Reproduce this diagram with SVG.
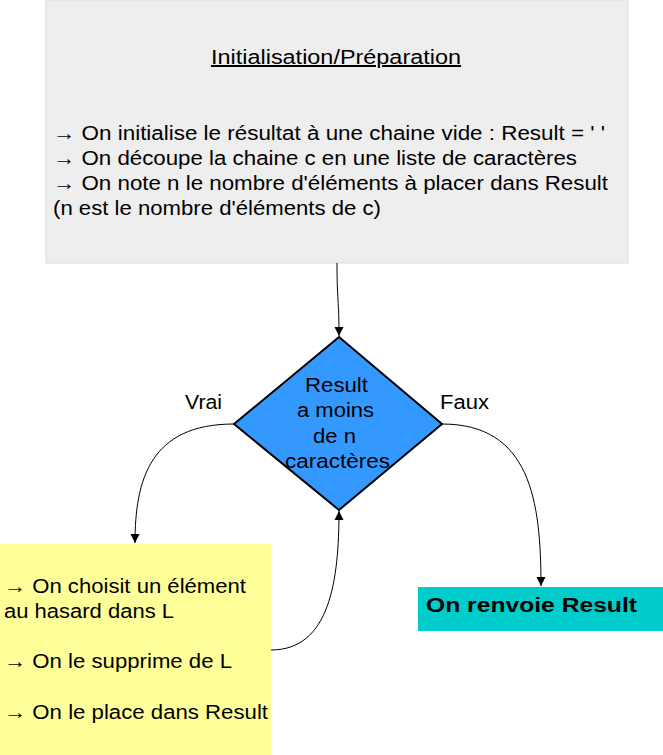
<svg xmlns="http://www.w3.org/2000/svg" width="663" height="755" viewBox="0 0 663 755">
<style>
text{font-family:"Liberation Sans",Arial,sans-serif;font-size:20px;fill:#000}
.c{fill:none;stroke:#000;stroke-width:1}
</style>
<defs><marker id="a" viewBox="0 0 10 10" refX="10" refY="5" markerWidth="9" markerHeight="13" markerUnits="userSpaceOnUse" orient="auto"><path d="M0,0L10,5L0,10z" fill="#000"/></marker></defs>
<rect width="663" height="755" fill="#fff"/>
<g id="init">
<rect x="46" y="0" width="582" height="263" fill="#eeeeee" stroke="#dddddd"/>
<text x="211" y="64" textLength="250" lengthAdjust="spacingAndGlyphs" text-decoration="underline">Initialisation/Préparation</text>
<text x="53" y="140" textLength="552" lengthAdjust="spacingAndGlyphs">→ On initialise le résultat à une chaine vide : Result = ' '</text>
<text x="53" y="165" textLength="524" lengthAdjust="spacingAndGlyphs">→ On découpe la chaine c en une liste de caractères</text>
<text x="53" y="190" textLength="555" lengthAdjust="spacingAndGlyphs">→ On note n le nombre d'éléments à placer dans Result</text>
<text x="53" y="215" textLength="328" lengthAdjust="spacingAndGlyphs">(n est le nombre d'éléments de c)</text>
</g>
<g id="cond">
<path d="M339,337L442,424L339,510L234,424z" fill="#3399ff" stroke="#000" stroke-width="2"/>
<text x="305" y="392" textLength="63" lengthAdjust="spacingAndGlyphs">Result</text>
<text x="297" y="417" textLength="77" lengthAdjust="spacingAndGlyphs">a moins</text>
<text x="313" y="443" textLength="43" lengthAdjust="spacingAndGlyphs">de n</text>
<text x="285" y="468" textLength="105" lengthAdjust="spacingAndGlyphs">caractères</text>
</g>
<g id="loop">
<rect x="0" y="544" width="271" height="211" fill="#ffff99"/>
<text x="4" y="593" textLength="242" lengthAdjust="spacingAndGlyphs">→ On choisit un élément</text>
<text x="4" y="618" textLength="170" lengthAdjust="spacingAndGlyphs">au hasard dans L</text>
<text x="4" y="668" textLength="228" lengthAdjust="spacingAndGlyphs">→ On le supprime de L</text>
<text x="4" y="719" textLength="264" lengthAdjust="spacingAndGlyphs">→ On le place dans Result</text>
</g>
<g id="end">
<rect x="418" y="587" width="245" height="44" fill="#00cccc"/>
<text x="426" y="612" font-weight="bold" textLength="211" lengthAdjust="spacingAndGlyphs">On renvoie Result</text>
</g>
<g id="connectors">
<path class="c" d="M337,263C337,300 339,300 339,336" marker-end="url(#a)"/>
<path class="c" d="M234,424C150,424 135,480 135,543" marker-end="url(#a)"/>
<path class="c" d="M442,424C530,424 541,500 541,586" marker-end="url(#a)"/>
<path class="c" d="M271,650C330,650 339,580 339,511" marker-end="url(#a)"/>
<text x="185" y="409" textLength="37" lengthAdjust="spacingAndGlyphs">Vrai</text>
<text x="440" y="409" textLength="49" lengthAdjust="spacingAndGlyphs">Faux</text>
</g>
</svg>
